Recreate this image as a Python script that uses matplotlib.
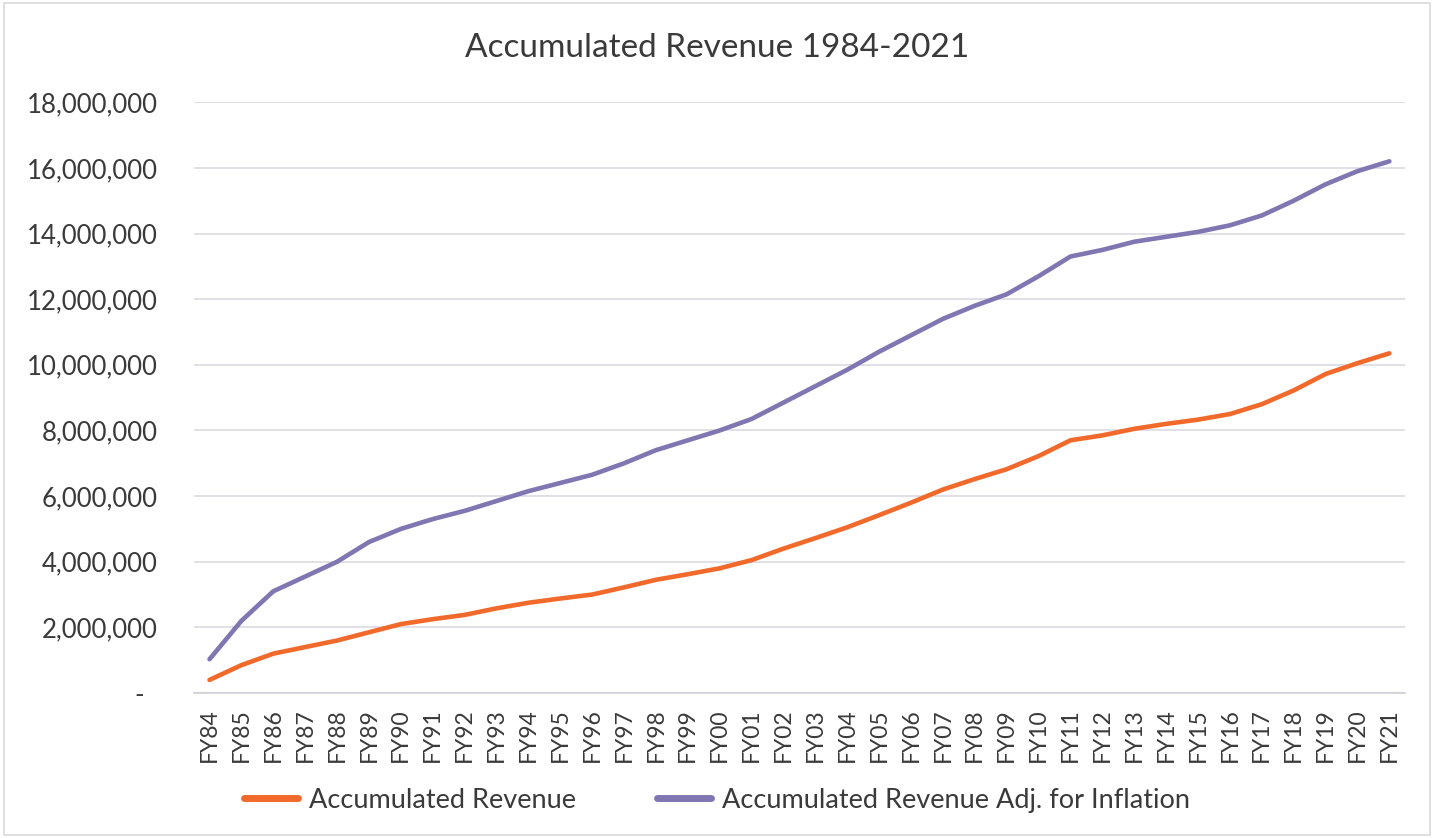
import matplotlib
matplotlib.use("Agg")
import matplotlib.pyplot as plt
from matplotlib.ticker import FuncFormatter
from matplotlib.patches import Rectangle

plt.rcParams['font.family'] = ['Lato', 'DejaVu Sans']

years = ["FY84", "FY85", "FY86", "FY87", "FY88", "FY89", "FY90", "FY91", "FY92", "FY93",
         "FY94", "FY95", "FY96", "FY97", "FY98", "FY99", "FY00", "FY01", "FY02", "FY03",
         "FY04", "FY05", "FY06", "FY07", "FY08", "FY09", "FY10", "FY11", "FY12", "FY13",
         "FY14", "FY15", "FY16", "FY17", "FY18", "FY19", "FY20", "FY21"]

accumulated_revenue = [400000, 850000, 1200000, 1400000, 1600000, 1850000, 2100000, 2250000,
                       2380000, 2580000, 2750000, 2880000, 3000000, 3220000, 3450000, 3620000,
                       3800000, 4050000, 4400000, 4720000, 5050000, 5420000, 5800000, 6200000,
                       6520000, 6820000, 7220000, 7700000, 7850000, 8050000, 8200000, 8330000,
                       8500000, 8800000, 9220000, 9720000, 10050000, 10350000]

accumulated_adj_inflation = [1030000, 2200000, 3100000, 3550000, 4000000, 4600000, 5000000, 5300000,
                             5550000, 5850000, 6150000, 6400000, 6650000, 7000000, 7400000, 7700000,
                             8000000, 8350000, 8850000, 9350000, 9850000, 10400000, 10900000, 11400000,
                             11800000, 12150000, 12700000, 13300000, 13500000, 13750000, 13900000, 14050000,
                             14250000, 14550000, 15000000, 15500000, 15900000, 16200000]

title = "Accumulated Revenue 1984-2021"
series_names = ["Accumulated Revenue", "Accumulated Revenue Adj. for Inflation"]
y_ticks = [0, 2000000, 4000000, 6000000, 8000000, 10000000, 12000000, 14000000, 16000000, 18000000]

orange = "#F26A2B"
purple = "#8076B2"
text_color = "#3A3A3A"
grid_color = "#DADAE2"

fig = plt.figure(figsize=(14.34, 8.38), dpi=100)
ax = fig.add_axes([0.135, 0.173, 0.845, 0.705])

x = list(range(len(years)))
ax.plot(x, accumulated_revenue, color=orange, lw=3.3, label=series_names[0], solid_capstyle='round')
ax.plot(x, accumulated_adj_inflation, color=purple, lw=3.3, label=series_names[1], solid_capstyle='round')

ax.set_xlim(-0.5, len(years) - 0.5)
ax.set_ylim(0, 18000000)
ax.set_yticks(y_ticks)

def fmt(v, pos):
    if v == 0:
        return "-  "
    return f"{int(v):,}"

ax.yaxis.set_major_formatter(FuncFormatter(fmt))
ax.set_xticks(x)
ax.set_xticklabels(years, rotation=90)

ax.tick_params(axis='y', length=0, pad=26, labelsize=18.5, labelcolor=text_color)
ax.tick_params(axis='x', length=0, pad=11, labelsize=16.5, labelcolor=text_color)

ax.grid(axis='y', color=grid_color, lw=1.2)
ax.set_axisbelow(True)
for s in ['top', 'right', 'left']:
    ax.spines[s].set_visible(False)
ax.spines['bottom'].set_color("#D0D0D8")
ax.spines['bottom'].set_linewidth(1.2)

fig.text(0.5, 0.943, title, ha='center', va='center', fontsize=24, color=text_color)

leg = fig.legend(loc='center', bbox_to_anchor=(0.5, 0.045), ncol=2, frameon=False,
                 fontsize=19.5, handlelength=2.0, handletextpad=0.4, columnspacing=3.0)
for t in leg.get_texts():
    t.set_color(text_color)
for l in leg.get_lines():
    l.set_linewidth(5)

fig.patches.append(Rectangle((0.003, 0.003), 0.994, 0.994, transform=fig.transFigure,
                             fill=False, edgecolor="#D9D9D9", lw=1.2))

fig.savefig("out.png", dpi=100, facecolor='white')
